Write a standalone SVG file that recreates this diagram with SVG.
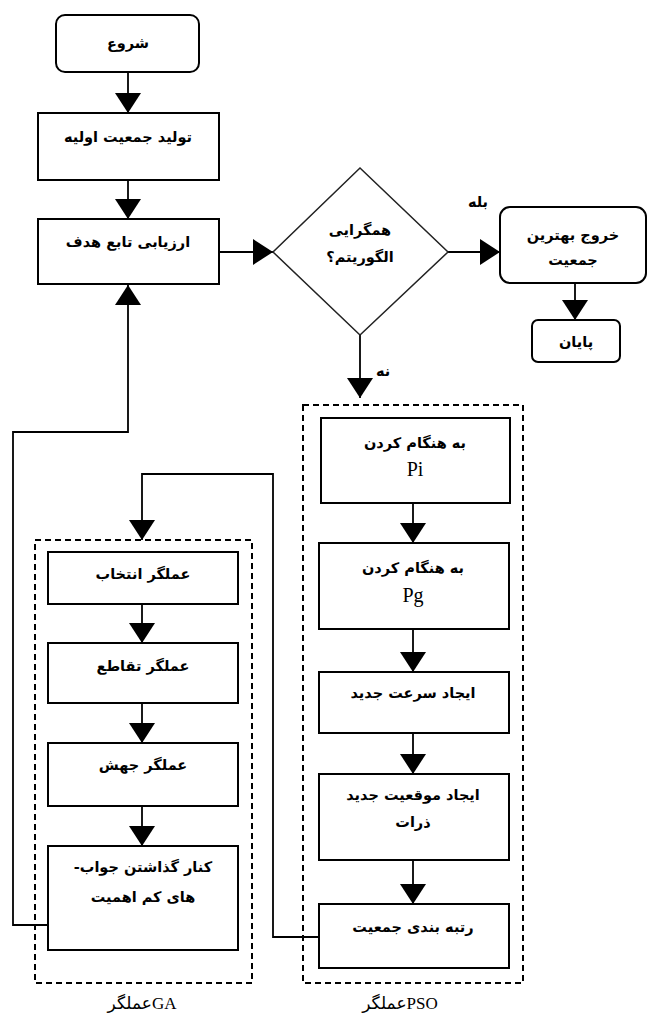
<svg xmlns="http://www.w3.org/2000/svg" width="647" height="1017" viewBox="0 0 647 1017">
<defs>
<marker id="ah" markerUnits="userSpaceOnUse" markerWidth="22" markerHeight="26" refX="20" refY="13" orient="auto">
<path d="M0,0 L20,13 L0,26 z" fill="#000"/>
</marker>
<style>
.box{fill:#fff;stroke:#000;stroke-width:2}
.dia{fill:#fff;stroke:#222;stroke-width:1.5}
.grp{fill:none;stroke:#000;stroke-width:2;stroke-dasharray:6 4}
.c{fill:none;stroke:#000;stroke-width:1.8}
.t{font-family:"DejaVu Sans",sans-serif;font-size:14.5px;font-weight:bold;text-anchor:middle;fill:#000;direction:rtl}
.l{font-family:"Liberation Serif",serif;font-size:20px;text-anchor:middle;fill:#000}
.g{font-family:"Liberation Serif","DejaVu Sans",serif;font-size:17px;text-anchor:middle;fill:#000}
</style>
</defs>
<rect width="647" height="1017" fill="#fff"/>

<g id="connectors">
<path class="c" d="M128,72 V113" marker-end="url(#ah)"/>
<path class="c" d="M128,180 V219" marker-end="url(#ah)"/>
<path class="c" d="M219,252 H273" marker-end="url(#ah)"/>
<path class="c" d="M448,252 H500" marker-end="url(#ah)"/>
<path class="c" d="M575,283 V320" marker-end="url(#ah)"/>
<path class="c" d="M360,335 V398" marker-end="url(#ah)"/>
<path class="c" d="M413,503 V543" marker-end="url(#ah)"/>
<path class="c" d="M413,629 V672" marker-end="url(#ah)"/>
<path class="c" d="M413,733 V774" marker-end="url(#ah)"/>
<path class="c" d="M413,860 V904" marker-end="url(#ah)"/>
<path class="c" d="M142,604 V643" marker-end="url(#ah)"/>
<path class="c" d="M142,703 V743" marker-end="url(#ah)"/>
<path class="c" d="M142,806 V846" marker-end="url(#ah)"/>
<path class="c" d="M49,925 H13 V432 H128 V285" marker-end="url(#ah)"/>
<path class="c" d="M319,937 H273 V474 H142 V540" marker-end="url(#ah)"/>
<text class="t" x="478" y="207">بله</text>
<text class="t" x="383" y="376">نه</text>
</g>

<g id="start"><rect class="box" x="56" y="15" width="143" height="57" rx="9"/><text class="t" x="128" y="48">شروع</text></g>
<g id="init"><rect class="box" x="38" y="113" width="181" height="67"/><text class="t" x="128" y="142">تولید جمعیت اولیه</text></g>
<g id="eval"><rect class="box" x="38" y="219" width="181" height="65"/><text class="t" x="128" y="247">ارزیابی تابع هدف</text></g>
<g id="converge"><polygon class="dia" points="360,168 448,252 360,335 273,252"/><text class="t" x="360" y="235">همگرایی</text><text class="t" x="360" y="262">الگوریتم؟</text></g>
<g id="output"><rect class="box" x="500" y="207" width="146" height="76" rx="10"/><text class="t" x="573" y="240">خروج بهترین</text><text class="t" x="573" y="265">جمعیت</text></g>
<g id="end"><rect class="box" x="532" y="320" width="88" height="42" rx="6"/><text class="t" x="576" y="347">پایان</text></g>

<g id="pso">
<rect class="grp" x="303" y="405" width="220" height="578"/>
<text class="g" x="400" y="1009">عملگرPSO</text>
</g>
<g id="pso1"><rect class="box" x="321" y="418" width="189" height="85"/><text class="t" x="415" y="448">به هنگام کردن</text><text class="l" x="415" y="476">Pi</text></g>
<g id="pso2"><rect class="box" x="319" y="543" width="190" height="86"/><text class="t" x="413" y="573">به هنگام کردن</text><text class="l" x="413" y="602">Pg</text></g>
<g id="pso3"><rect class="box" x="319" y="672" width="190" height="61"/><text class="t" x="413" y="698">ایجاد سرعت جدید</text></g>
<g id="pso4"><rect class="box" x="319" y="774" width="190" height="86"/><text class="t" x="413" y="800">ایجاد موقعیت جدید</text><text class="t" x="413" y="827">ذرات</text></g>
<g id="pso5"><rect class="box" x="319" y="904" width="190" height="64"/><text class="t" x="413" y="932">رتبه بندی جمعیت</text></g>

<g id="ga">
<rect class="grp" x="35" y="540" width="217" height="443"/>
<text class="g" x="142" y="1009">عملگرGA</text>
</g>
<g id="ga1"><rect class="box" x="48" y="552" width="190" height="52"/><text class="t" x="143" y="579">عملگر انتخاب</text></g>
<g id="ga2"><rect class="box" x="48" y="643" width="190" height="60"/><text class="t" x="143" y="671">عملگر تقاطع</text></g>
<g id="ga3"><rect class="box" x="48" y="743" width="190" height="63"/><text class="t" x="143" y="770">عملگر جهش</text></g>
<g id="ga4"><rect class="box" x="48" y="846" width="190" height="104"/><text class="t" x="143" y="872">کنار گذاشتن جواب-</text><text class="t" x="143" y="902">های کم اهمیت</text></g>
</svg>
